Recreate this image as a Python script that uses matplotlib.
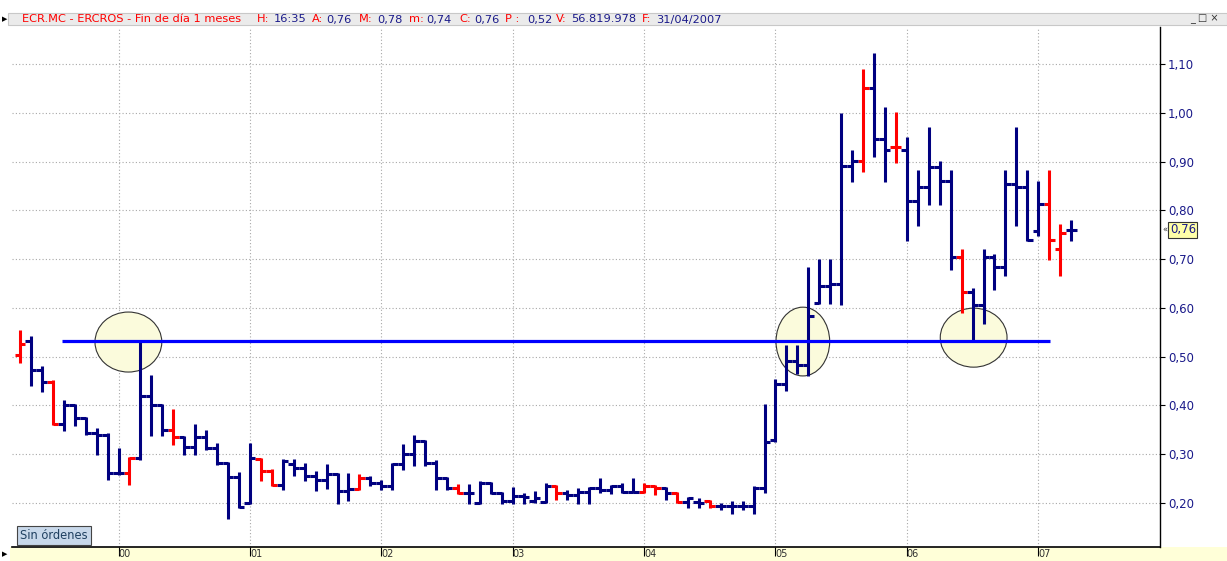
import numpy as np
import pandas as pd
import matplotlib
matplotlib.use('Agg')
import matplotlib.pyplot as plt
from matplotlib.patches import Ellipse, Rectangle
from matplotlib.transforms import ScaledTranslation, blended_transform_factory

plt.rcParams['font.family'] = ['DejaVu Sans']

# monthly bars, Apr 1999 .. Apr 2007 (one row per year)
months = pd.date_range('1999-04-01', '2007-04-01', freq='MS')

opens = [0.503, 0.532, 0.472, 0.448, 0.362, 0.400, 0.374, 0.343, 0.340,
         0.261, 0.261, 0.292, 0.419, 0.400, 0.349, 0.335, 0.315, 0.335, 0.312, 0.283, 0.254,
         0.200, 0.291, 0.265, 0.237, 0.279, 0.272, 0.255, 0.248, 0.259, 0.224, 0.228, 0.252,
         0.242, 0.235, 0.279, 0.300, 0.328, 0.281, 0.252, 0.231, 0.221, 0.200, 0.242, 0.221,
         0.204, 0.215, 0.205, 0.203, 0.234, 0.220, 0.217, 0.223, 0.230, 0.227, 0.234, 0.223,
         0.223, 0.234, 0.230, 0.220, 0.203, 0.203, 0.205, 0.194, 0.194, 0.194, 0.194, 0.230,
         0.330, 0.445, 0.492, 0.482, 0.610, 0.645, 0.648, 0.890, 0.902, 1.051, 0.946, 0.929,
         0.923, 0.820, 0.847, 0.888, 0.861, 0.704, 0.632, 0.605, 0.704, 0.683, 0.853, 0.847,
         0.758, 0.812, 0.721, 0.760]
highs = [0.554, 0.542, 0.480, 0.453, 0.411, 0.404, 0.376, 0.353, 0.343,
         0.312, 0.295, 0.532, 0.462, 0.404, 0.392, 0.337, 0.362, 0.349, 0.324, 0.285, 0.264,
         0.322, 0.293, 0.269, 0.291, 0.291, 0.283, 0.265, 0.279, 0.262, 0.262, 0.260, 0.255,
         0.248, 0.281, 0.320, 0.339, 0.330, 0.289, 0.254, 0.238, 0.238, 0.246, 0.244, 0.223,
         0.232, 0.220, 0.225, 0.240, 0.236, 0.227, 0.230, 0.232, 0.251, 0.237, 0.240, 0.251,
         0.240, 0.237, 0.232, 0.222, 0.213, 0.210, 0.206, 0.200, 0.205, 0.205, 0.234, 0.403,
         0.455, 0.523, 0.523, 0.683, 0.700, 0.700, 1.000, 0.923, 1.090, 1.122, 1.011, 1.001,
         0.950, 0.882, 0.970, 0.901, 0.882, 0.721, 0.641, 0.721, 0.711, 0.882, 0.970, 0.882,
         0.861, 0.882, 0.771, 0.780]
lows = [0.487, 0.440, 0.428, 0.360, 0.348, 0.357, 0.339, 0.298, 0.247,
        0.258, 0.237, 0.289, 0.337, 0.337, 0.319, 0.298, 0.298, 0.309, 0.278, 0.168, 0.189,
        0.197, 0.245, 0.235, 0.226, 0.255, 0.245, 0.224, 0.228, 0.197, 0.205, 0.226, 0.235,
        0.226, 0.226, 0.267, 0.276, 0.276, 0.226, 0.226, 0.218, 0.197, 0.197, 0.218, 0.198,
        0.197, 0.198, 0.200, 0.201, 0.206, 0.206, 0.198, 0.198, 0.220, 0.219, 0.220, 0.220,
        0.220, 0.217, 0.206, 0.200, 0.189, 0.189, 0.189, 0.186, 0.177, 0.186, 0.178, 0.220,
        0.325, 0.430, 0.465, 0.461, 0.607, 0.607, 0.605, 0.858, 0.878, 0.909, 0.858, 0.897,
        0.737, 0.767, 0.810, 0.810, 0.678, 0.589, 0.533, 0.567, 0.637, 0.666, 0.767, 0.738,
        0.748, 0.698, 0.666, 0.738]
closes = [0.526, 0.472, 0.449, 0.362, 0.401, 0.374, 0.343, 0.340, 0.261,
          0.261, 0.292, 0.420, 0.400, 0.349, 0.335, 0.315, 0.335, 0.312, 0.283, 0.254, 0.192,
          0.292, 0.265, 0.237, 0.287, 0.272, 0.255, 0.248, 0.259, 0.224, 0.228, 0.252, 0.242,
          0.235, 0.279, 0.300, 0.328, 0.281, 0.252, 0.231, 0.221, 0.221, 0.242, 0.221, 0.204,
          0.215, 0.213, 0.210, 0.234, 0.220, 0.217, 0.223, 0.230, 0.227, 0.234, 0.223, 0.223,
          0.234, 0.230, 0.220, 0.203, 0.210, 0.201, 0.194, 0.194, 0.194, 0.194, 0.230, 0.326,
          0.445, 0.492, 0.482, 0.584, 0.645, 0.648, 0.890, 0.902, 1.051, 0.946, 0.923, 0.929,
          0.820, 0.847, 0.888, 0.861, 0.704, 0.632, 0.605, 0.704, 0.683, 0.853, 0.847, 0.739,
          0.812, 0.739, 0.753, 0.760]
red_months = ['1999-04', '1999-07', '2000-02', '2000-06', '2001-02', '2001-03', '2001-11',
              '2002-08', '2003-05', '2004-01', '2004-02', '2004-04', '2004-07', '2005-09',
              '2005-12', '2006-06', '2007-02', '2007-03']

year_labels = ['00', '01', '02', '03', '04', '05', '06', '07']
price_ticks = [0.2, 0.3, 0.4, 0.5, 0.6, 0.7, 0.8, 0.9, 1.0, 1.1]
last_price = 0.76

support_level = 0.532
support_span = (-5.2, 85.1)          # months from Jan 2000
circles = [(0.9, 0.530, 6.1, 0.123), (62.5, 0.531, 4.9, 0.141), (78.1, 0.539, 6.1, 0.121)]

title_parts = [("ECR.MC - ERCROS - Fin de día 1 meses", 'r'), ("H:", 'r'), ("16:35", 'b'),
               ("A:", 'r'), ("0,76", 'b'), ("M:", 'r'), ("0,78", 'b'), ("m:", 'r'), ("0,74", 'b'),
               ("C:", 'r'), ("0,76", 'b'), ("P :", 'r'), ("0,52", 'b'), ("V:", 'r'),
               ("56.819.978", 'b'), ("F:", 'r'), ("31/04/2007", 'b')]
title_x = [22, 257, 274, 312, 326, 359, 377, 409, 426, 459, 474, 505, 527, 556, 571, 642, 656]

NAVY = '#000080'
RED = '#ff0000'
W, H = 1227, 561

fig = plt.figure(figsize=(W / 100, H / 100), dpi=100)
ax = fig.add_axes([12 / W, (H - 547) / H, (1160 - 12) / W, (547 - 27) / H])

x = np.array((months.year - 2000) * 12 + months.month - 1, dtype=float)
colors = [RED if m in red_months else NAVY for m in months.strftime('%Y-%m')]
lw = 2.2
ax.vlines(x, lows, highs, colors=colors, lw=lw, capstyle='butt', zorder=3)
ax.hlines(opens, x - 0.5, x, colors=colors, lw=lw, capstyle='butt', zorder=3)
ax.hlines(closes, x, x + 0.5, colors=colors, lw=lw, capstyle='butt', zorder=3)

for cx, cy, w, h in circles:
    ax.add_patch(Ellipse((cx, cy), w, h, facecolor='#fbfbdc', edgecolor='#333333',
                         lw=0.8, zorder=2))
ax.hlines(support_level, *support_span, colors='#0000ff', lw=2.3, zorder=4)

ax.set_xlim(-9.73, 95.12)
ax.set_ylim(0.1098, 1.1759)

ax.set_xticks(np.arange(0, 12 * len(year_labels), 12))
ax.set_xticklabels(year_labels, fontsize=7, color='#303030', ha='left')
off = ScaledTranslation(3 / 72, 0, fig.dpi_scale_trans)
for lab in ax.get_xticklabels():
    lab.set_transform(lab.get_transform() + off)
ax.tick_params(axis='x', direction='out', length=6.5, width=0.8, pad=-5.2)

ax.yaxis.tick_right()
ax.set_yticks(price_ticks)
ax.set_yticklabels([f'{p:.2f}'.replace('.', ',') for p in price_ticks], fontsize=8.5, color='#1a1a8a')
ax.tick_params(axis='y', direction='out', length=3.6, width=0.8, pad=2)

ax.grid(True, color='#a8a8a8', linestyle=(0, (1, 2)), lw=0.8, zorder=0)
ax.set_axisbelow(True)
for s in ['left', 'top']:
    ax.spines[s].set_visible(False)
ax.spines['right'].set_linewidth(1)
ax.spines['bottom'].set_linewidth(1.2)

# current value marker
tr = blended_transform_factory(ax.transAxes, ax.transData)
ax.text(1.002, last_price, '\u00ab', transform=tr, fontsize=6, va='center', ha='left', color='#333333')
ax.text(1.0085, last_price, f'{last_price:.2f}'.replace('.', ','), transform=tr, fontsize=8.5,
        va='center', ha='left', color='#1a1a8a',
        bbox=dict(boxstyle='square,pad=0.12', facecolor='#ffffa8', edgecolor='#333333', lw=0.8))

# bottom strip
fig.patches.append(Rectangle((10 / W, 0), 1 - 10 / W, (H - 547) / H, transform=fig.transFigure,
                             facecolor='#ffffd8', edgecolor='none', zorder=-1))
fig.text(2 / W, (H - 554) / H, '\u25b6', fontsize=5, color='black', va='center', ha='left')

# title bar
fig.patches.append(Rectangle((8 / W, (H - 25) / H), 1 - 8 / W, 12 / H, transform=fig.transFigure,
                             facecolor='#ebebeb', edgecolor='#c8c8c8', lw=0.8, zorder=-1))
fig.text(2 / W, (H - 19.5) / H, '\u25b6', fontsize=5, color='black', va='center', ha='left')
for (s, c), px in zip(title_parts, title_x):
    fig.text(px / W, (H - 19.5) / H, s, fontsize=8.2, color=RED if c == 'r' else '#1a1a8a',
             va='center', ha='left')
fig.text(1190 / W, (H - 19.5) / H, '_ \u25a1 \u00d7', fontsize=7, color='#333333', va='center',
         ha='left')

# order status box
fig.text(20 / W, (H - 535.5) / H, 'Sin órdenes', fontsize=8.3, color='#1f4060', va='center', ha='left',
         bbox=dict(boxstyle='square,pad=0.25', facecolor='#c8d8ea', edgecolor='#444444', lw=0.8))

fig.savefig('out.png', dpi=100, facecolor='white')
